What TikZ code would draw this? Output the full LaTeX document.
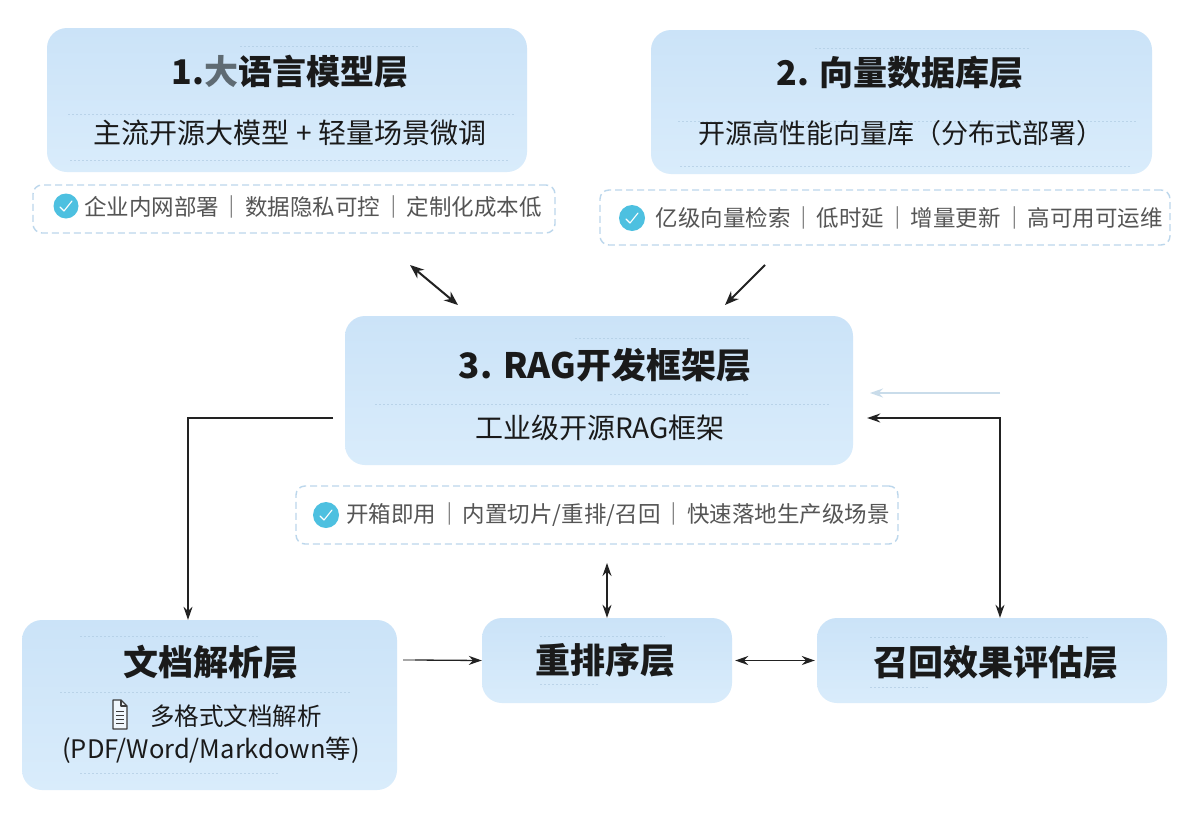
\documentclass[tikz,border=0pt]{standalone}
\usepackage{fontspec}
\setmainfont{Noto Sans CJK SC}
\usetikzlibrary{arrows.meta}
\definecolor{boxtop}{HTML}{CBE3F8}
\definecolor{boxbot}{HTML}{D9ECFB}
\definecolor{badgeline}{HTML}{BCD7EC}
\definecolor{checkc}{HTML}{4DC0E0}
\definecolor{txtgray}{HTML}{555555}
\definecolor{txtdark}{HTML}{1A1A1A}
\definecolor{dotc}{HTML}{A9C6DE}
\definecolor{fadec}{HTML}{C9DCEA}
\definecolor{arrc}{HTML}{222222}
\tikzset{
  layerbox/.style={rounded corners=20pt, top color=boxtop, bottom color=boxbot, draw=none, inner sep=0pt},
  badgebox/.style={rounded corners=9pt, draw=badgeline, line width=1.4pt, dash pattern=on 7pt off 4pt, fill=white, inner sep=0pt},
  titletxt/.style={font=\fontsize{34}{40}\selectfont\bfseries, text=txtdark, inner sep=0pt},
  subtxt/.style={font=\fontsize{28}{32}\selectfont, text=txtdark, inner sep=0pt},
  badgetxt/.style={font=\fontsize{22.5}{27}\selectfont, text=txtgray, inner sep=0pt},
  faintdot/.style={draw=dotc, line width=0.8pt, dash pattern=on 1.5pt off 2.5pt, opacity=0.6},
  conn/.style={draw=arrc, line width=1.3pt, arrows={-Stealth[length=13pt,width=9pt]}},
  conn2/.style={draw=arrc, line width=1.3pt, arrows={Stealth[length=13pt,width=9pt]-Stealth[length=13pt,width=9pt]}},
  diag/.style={draw=arrc, line width=2pt},
  checkicon/.style={circle, fill=checkc, minimum size=26pt, inner sep=0pt}
}
\newcommand{\sepbar}{\hspace{2pt}｜\hspace{2pt}}
\newcommand{\checkmk}[1]{%
  \draw[white, line width=1.1pt, line cap=round, line join=round]
    ([shift={(-6,1)}]#1.center) -- ([shift={(-2,5)}]#1.center) -- ([shift={(6,-5)}]#1.center);}
\begin{document}
\begin{tikzpicture}[x=1pt,y=-1pt]
\useasboundingbox (0,0) rectangle (1190,819);
\fill[white] (0,0) rectangle (1190,819);

% ---------- layer boxes ----------
\node[layerbox, minimum width=480pt, minimum height=144pt] (llm) at (287,100) {};
\node[layerbox, minimum width=501pt, minimum height=144pt] (vdb) at (901.5,102) {};
\node[layerbox, minimum width=508pt, minimum height=149pt] (rag) at (599,390.5) {};
\node[layerbox, minimum width=375pt, minimum height=170pt] (doc) at (209.5,705) {};
\node[layerbox, minimum width=250pt, minimum height=85pt] (rerank) at (607,660.5) {};
\node[layerbox, minimum width=350pt, minimum height=85pt] (eval) at (992,660.5) {};

% faint dotted guide lines inside boxes
\draw[faintdot] (240,46) -- (420,46);
\draw[faintdot] (68,114) -- (515,114);
\draw[faintdot] (70,160) -- (510,160);
\draw[faintdot] (815,48) -- (1030,48);
\draw[faintdot] (678,121) -- (1137,121);
\draw[faintdot] (680,166) -- (1130,166);
\draw[faintdot] (575,338) -- (750,338);
\draw[faintdot] (610,394) -- (750,394);
\draw[faintdot] (375,404) -- (830,404);
\draw[faintdot] (80,636) -- (260,636);
\draw[faintdot] (60,692) -- (350,692);
\draw[faintdot] (80,773) -- (280,773);
\draw[faintdot] (540,636) -- (665,636);
\draw[faintdot] (540,684) -- (600,684);
\draw[faintdot] (870,637) -- (1090,637);
\draw[faintdot] (870,687) -- (930,687);

% ---------- titles ----------
\node[titletxt] (t1) at (290,72) {1.\textcolor[HTML]{5F6B73}{大}语言模型层};
\node[subtxt] (s1) at (290,133) {主流开源大模型 + 轻量场景微调};
\node[titletxt] (t2) at (900,73) {2. 向量数据库层};
\node[subtxt, font=\fontsize{27}{32}\selectfont] (s2) at (901,133) {开源高性能向量库（分布式部署）};
\node[titletxt, font=\fontsize{35}{40}\selectfont\bfseries] (t3) at (605,365) {3. RAG开发框架层};
\node[subtxt] (s3) at (600,428) {工业级开源RAG框架};
\node[titletxt, font=\fontsize{35}{40}\selectfont\bfseries] (t4) at (211,662) {文档解析层};
\node[subtxt, font=\fontsize{24.5}{30}\selectfont] (s4a) at (236,716) {多格式文档解析};
\node[subtxt, font=\fontsize{25.5}{30}\selectfont] (s4b) at (211,750) {(PDF/Word/Markdown等)};
\node[titletxt, font=\fontsize{35}{40}\selectfont\bfseries] (t5) at (605,660) {重排序层};
\node[titletxt, font=\fontsize{35}{40}\selectfont\bfseries] (t6) at (996,662) {召回效果评估层};

% doc icon
\begin{scope}[draw=txtdark!85, line width=1.3pt, line join=round]
  \draw[fill=white!60!boxbot] (113,700) -- (121,700) -- (127,706) -- (127,729) -- (113,729) -- cycle;
  \draw (121,700) -- (121,706) -- (127,706);
  \draw[line width=1pt] (116,711) -- (124,711);
  \draw[line width=1pt] (116,715) -- (124,715);
  \draw[line width=1pt] (116,719) -- (124,719);
  \draw[line width=1pt] (116,723) -- (124,723);
\end{scope}

% ---------- badges ----------
\node[badgebox, minimum width=522pt, minimum height=48pt] (b1) at (294,209) {};
\node[badgebox, minimum width=570pt, minimum height=55pt] (b2) at (885,217.5) {};
\node[badgebox, minimum width=602pt, minimum height=58pt] (b3) at (597,515) {};

\node[checkicon, minimum size=25pt] (c1) at (66,206) {};
\checkmk{c1}
\node[checkicon] (c2) at (632,218) {};
\checkmk{c2}
\node[checkicon] (c3) at (326,515) {};
\checkmk{c3}

\node[badgetxt] (bt1) at (313,207) {企业内网部署\sepbar 数据隐私可控\sepbar 定制化成本低};
\node[badgetxt] (bt2) at (909,218) {亿级向量检索\sepbar 低时延\sepbar 增量更新\sepbar 高可用可运维};
\node[badgetxt] (bt3) at (618,515) {开箱即用\sepbar 内置切片/重排/召回\sepbar 快速落地生产级场景};

% ---------- connectors ----------
\coordinate (d1a) at (410,265);
\coordinate (d1b) at (458,305);
\coordinate (d2a) at (765,265);
\coordinate (d2b) at (725,305);
\draw[diag, arrows={Stealth[length=14pt,width=11pt]-Stealth[length=14pt,width=11pt]}] (d1a) -- (d1b);
\draw[diag, arrows={-Stealth[length=14pt,width=11pt]}] (d2a) -- (d2b);

% left: RAG -> doc
\coordinate (lstart) at (333,418);
\draw[conn] (lstart) -| (doc.north -| 188,0);

% right: eval <-> RAG
\coordinate (rcorner) at (1000,418);
\draw[conn2] (rag.east |- 0,418) ++(14,0) coordinate (rtip) (rtip) -- (rcorner) -- (eval.north -| rcorner);

% faint arrow
\coordinate (fstart) at (1000,393);
\draw[draw=fadec, line width=1.5pt, arrows={-Stealth[length=13pt,width=9pt]}] (fstart) -- (870,393);

% badge3 <-> rerank
\coordinate (vtop) at (607,563);
\draw[conn2] (vtop) -- (rerank.north);

% doc -> rerank
\coordinate (hstart) at (403,660);
\draw[draw=arrc!40, line width=1.3pt] (hstart) -- (415,660);
\draw[conn] (415,660) -- (rerank.west);

% rerank <-> eval
\draw[conn2] ([xshift=3pt]rerank.east) -- ([xshift=-2pt]eval.west);
\end{tikzpicture}
\end{document}
